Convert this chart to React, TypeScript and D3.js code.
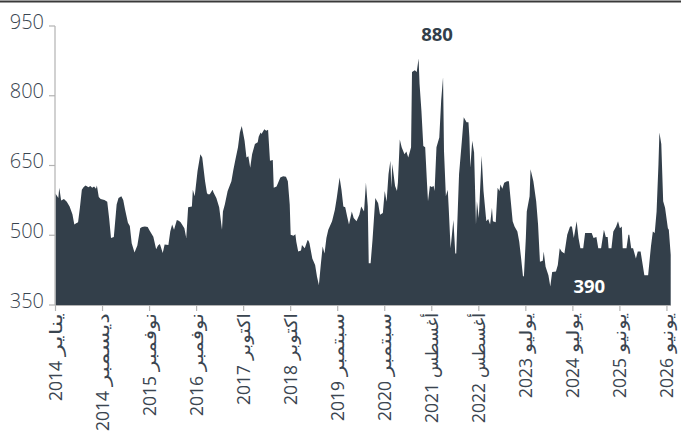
import React from "react";
import * as d3 from "d3";

// week index since Jan 2014 (irregular keypoints)
const weeks = [0,3,4,6,9,12,15,18,20,22,24,26,28,30,32,35,37,39,41,43,44,46,48,52,55,57,59,62,65,67,70,72,74,77,79,81,84,87,90,92,95,98,100,104,107,109,111,114,116,120,122,124,126,129,131,133,137,139,141,145,146,148,151,154,156,159,161,162,164,167,168,171,174,175,177,178,180,183,187,189,191,194,196,198,199,201,203,205,207,209,212,215,216,218,219,222,224,226,228,231,232,235,239,242,245,247,249,250,253,255,256,258,261,262,265,268,269,270,273,276,278,280,282,284,286,288,290,294,297,299,302,304,306,308,310,312,315,317,320,323,325,328,330,332,333,335,337,340,343,345,348,350,352,354,356,357,358,361,363,364,366,368,371,373,375,378,379,382,384,386,387,389,391,393,395,396,398,400,402,403,405,408,410,412,413,415,417,418,420,423,425,426,429,432,434,437,439,440,441,443,445,447,448,450,453,455,458,460,462,464,465,468,470,472,473,475,477,480,482,484,486,488,491,493,495,497,498,500,501,504,505,508,511,513,515,518,519,521,524,526,528,532,534,536,538,541,544,547,549,551,554,556,558,561,563,570,572,575,577,580,583,585,587,588,591,593,595,596,598,600,602,603,607,609,610,612,614,617,619,622,626,630,633,635,637,639,641,642,644,646,648,651,652,654];
const prices = [590,580,602,575,578,572,562,545,523,526,528,560,598,604,607,603,606,602,605,600,607,582,578,576,572,537,494,496,566,580,584,576,555,527,520,483,463,478,515,518,519,518,510,497,470,478,481,462,480,479,508,523,512,533,531,528,515,494,560,562,598,584,638,674,667,616,591,588,588,598,592,580,560,544,512,551,566,595,616,640,660,689,721,735,725,703,667,670,645,674,696,700,712,721,718,728,725,727,660,662,602,605,624,627,626,616,566,501,499,502,486,465,467,479,472,490,488,483,450,436,411,393,436,476,461,494,512,530,555,580,624,598,562,560,541,523,551,537,530,544,562,551,613,562,440,440,490,580,569,544,548,595,572,631,660,602,653,606,595,613,706,689,674,680,667,689,851,855,851,880,826,768,692,689,609,573,606,604,606,595,689,710,790,840,681,584,598,559,472,533,461,461,631,703,754,743,743,710,645,703,678,523,573,537,671,595,530,535,523,559,530,528,602,595,609,600,613,616,616,573,530,519,508,486,450,411,413,494,551,584,642,616,573,523,443,445,465,432,414,390,421,422,436,472,465,461,501,519,519,494,530,494,472,472,505,505,494,496,472,472,512,496,496,472,472,508,515,519,530,515,519,472,472,501,501,472,472,450,465,465,414,414,476,508,505,551,653,721,696,573,559,515,512,458];

const tickWeeks = [0,50,100,150,200,250,300,350,400,450,500,550,600,650];
const tickMonths = ["يناير","ديسمبر","نوفمبر","نوفمبر","اكتوبر","اكتوبر","سبتمبر","سبتمبر","أغسطس","أغسطس","يوليو","يوليو","يونيو","يونيو"];
const tickYears = ["2014","2014","2015","2016","2017","2018","2019","2020","2021","2022","2023","2024","2025","2026"];
const yTicks = [350,500,650,800,950];

// style: rendered length (px) of each Arabic month word in the reference typeface
const MONTH_LEN: Record<string, number> = {
  "يناير": 43, "ديسمبر": 73, "نوفمبر": 58, "اكتوبر": 47,
  "سبتمبر": 63, "أغسطس": 65, "يوليو": 40, "يونيو": 40,
};

const W = 681, H = 443;
const FILL = "#333f4a";
const TEXT = "#3a4550";
const FONT = "'Open Sans', 'DejaVu Sans', sans-serif";

export default function App() {
  const data = weeks.map((w, i) => ({ w, v: prices[i] }));
  const x = d3.scaleLinear().domain([0, 654]).range([55.5, 670.7]);
  const y = d3.scaleLinear().domain([350, 950]).range([305, 26]);
  const area = d3.area<{ w: number; v: number }>()
    .x(d => x(d.w)).y0(y(350)).y1(d => y(d.v));
  const maxD = data.reduce((a, b) => (b.v > a.v ? b : a));
  const minD = data.reduce((a, b) => (b.v < a.v ? b : a));
  const labelTop = 313;
  return (
    <svg width={W} height={H} style={{ position: "absolute", left: 0, top: 0, background: "#fff" }} fontFamily={FONT}>
      <line x1={0} x2={W} y1={1.5} y2={1.5} stroke="#3a3a3a" strokeWidth={2} />
      <path d={area(data) || ""} fill={FILL} />
      {/* y axis */}
      <line x1={55} x2={55} y1={y(950)} y2={y(350)} stroke="#b3b3b3" strokeWidth={1.2} />
      {yTicks.map(t => (
        <g key={t}>
          <line x1={49} x2={55} y1={y(t)} y2={y(t)} stroke="#b3b3b3" strokeWidth={1.2} />
          <text x={44} y={y(t) + 2.5} textAnchor="end" fontSize={20} fontWeight={300} fill={TEXT}>{t}</text>
        </g>
      ))}
      {/* x axis */}
      <line x1={55} x2={671} y1={305.5} y2={305.5} stroke="#b3b3b3" strokeWidth={1.2} />
      {tickWeeks.map((t, i) => {
        const m = tickMonths[i];
        const len = MONTH_LEN[m] ?? 50;
        return (
          <g key={t}>
            <line x1={x(t)} x2={x(t)} y1={305} y2={311} stroke="#b3b3b3" strokeWidth={1.2} />
            <text transform={`translate(${x(t)},${labelTop}) rotate(-90)`} textAnchor="end" dy="0.35em"
              fontSize={17.5} fill={TEXT} fontFamily="'DejaVu Sans', sans-serif"
              textLength={len} lengthAdjust="spacingAndGlyphs">{m}</text>
            <text transform={`translate(${x(t)},${labelTop + len + 5}) rotate(-90)`} textAnchor="end" dy="0.35em"
              fontSize={17.5} fill={TEXT} fontFamily="'Open Sans', sans-serif">{tickYears[i]}</text>
          </g>
        );
      })}
      <text x={x(maxD.w) + 18.5} y={y(maxD.v) - 18} textAnchor="middle" fontSize={18.5} fontWeight={700} fill={FILL}>{maxD.v}</text>
      <text x={x(minD.w) + 39} y={y(minD.v) + 7} textAnchor="middle" fontSize={18.5} fontWeight={700} fill="#ffffff">{minD.v}</text>
    </svg>
  );
}
